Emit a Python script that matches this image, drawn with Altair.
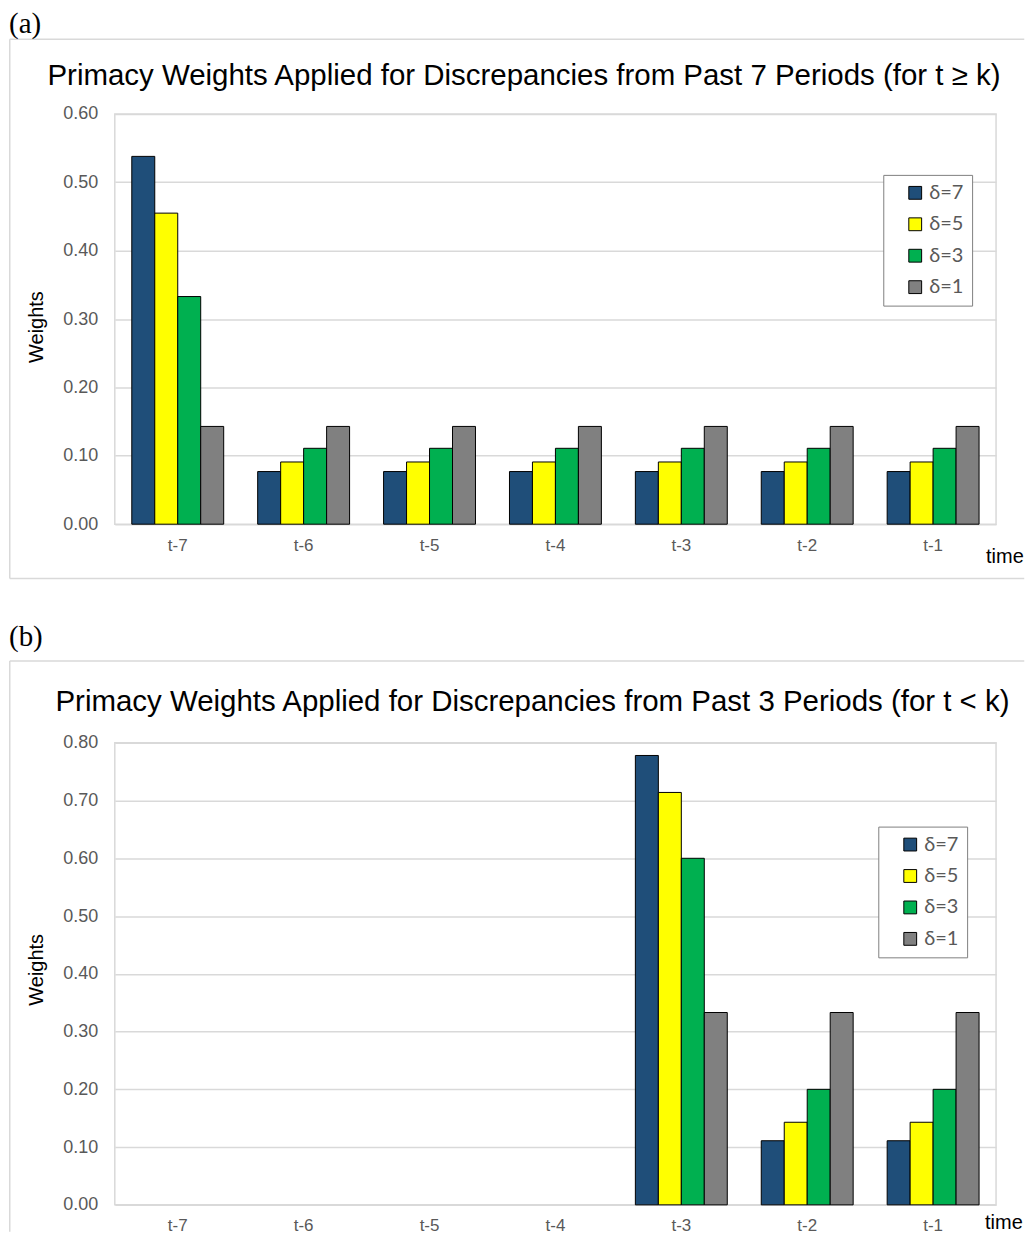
import altair as alt
import pandas as pd

# ---------------- data ----------------
periods = ["t-7", "t-6", "t-5", "t-4", "t-3", "t-2", "t-1"]
series = ["δ=7", "δ=5", "δ=3", "δ=1"]
colors = ["#1F4E79", "#FFFF00", "#00B050", "#808080"]

# panel (a): past 7 periods
a_d7 = [0.538, 0.077, 0.077, 0.077, 0.077, 0.077, 0.077]
a_d5 = [0.455, 0.091, 0.091, 0.091, 0.091, 0.091, 0.091]
a_d3 = [0.333, 0.111, 0.111, 0.111, 0.111, 0.111, 0.111]
a_d1 = [0.143, 0.143, 0.143, 0.143, 0.143, 0.143, 0.143]

# panel (b): past 3 periods (no bars for t-7 .. t-4)
b_d7 = [None, None, None, None, 0.778, 0.111, 0.111]
b_d5 = [None, None, None, None, 0.714, 0.143, 0.143]
b_d3 = [None, None, None, None, 0.600, 0.200, 0.200]
b_d1 = [None, None, None, None, 0.333, 0.333, 0.333]

a_ticks = [0.0, 0.1, 0.2, 0.3, 0.4, 0.5, 0.6]
b_ticks = [0.0, 0.1, 0.2, 0.3, 0.4, 0.5, 0.6, 0.7, 0.8]

title_a = "Primacy Weights Applied for Discrepancies from Past 7 Periods (for t ≥ k)"
title_b = "Primacy Weights Applied for Discrepancies from Past 3 Periods (for t < k)"


def to_long(lists):
    rows = []
    for s, vals in zip(series, lists):
        for p, v in zip(periods, vals):
            if v is not None:
                rows.append({"period": p, "series": s, "value": v})
    return pd.DataFrame(rows)


df_a = to_long([a_d7, a_d5, a_d3, a_d1])
df_b = to_long([b_d7, b_d5, b_d3, b_d1])
one = pd.DataFrame({"k": [0]})

SANS = "Liberation Sans"
SERIF = "Liberation Serif"
GRID = "#d9d9d9"
LBL = "#595959"
W = 883
XL, XR = -105.25, 911.25   # frame left line / right end (page is cut there)


def bars(df, ymax, ticks, leg_x, leg_y, ytitle_y):
    return alt.Chart(df).mark_bar(stroke="black", strokeWidth=1).encode(
        x=alt.X("period:N", sort=periods,
                scale=alt.Scale(domain=periods, paddingInner=0.27, paddingOuter=0.135),
                axis=alt.Axis(title=None, labelAngle=0, labelFontSize=17, labelColor=LBL,
                              labelFont=SANS, labelPadding=13, domain=False, ticks=False)),
        xOffset=alt.XOffset("series:N", sort=series,
                            scale=alt.Scale(domain=series, paddingInner=0, paddingOuter=0)),
        y=alt.Y("value:Q", scale=alt.Scale(domain=[0, ymax], nice=False, zero=True),
                axis=alt.Axis(values=ticks, format=".2f", title="Weights", titleFont=SANS,
                              titleFontSize=20, titleFontWeight="normal", titleColor="black",
                              titleX=-78, titleY=ytitle_y, titleBaseline="middle", titleAngle=270,
                              labelFontSize=18, labelColor=LBL, labelFont=SANS, labelPadding=17,
                              domain=False, ticks=False, grid=True, gridColor=GRID,
                              gridWidth=1.5)),
        color=alt.Color("series:N", sort=series,
                        scale=alt.Scale(domain=series, range=colors),
                        legend=alt.Legend(title=None, orient="none", legendX=leg_x, legendY=leg_y,
                                          symbolType="square", symbolSize=165,
                                          symbolStrokeColor="black", symbolStrokeWidth=1,
                                          labelFontSize=20, labelColor=LBL, labelFont="Lato",
                                          strokeColor="#7f7f7f", fillColor="white",
                                          padding=8, rowPadding=11.5, symbolOffset=14,
                                          labelOffset=4)),
    )


def text(s, x, y, size, font=SANS, align="left", color="black", baseline="alphabetic"):
    return alt.Chart(one).mark_text(text=s, align=align, baseline=baseline,
                                    font=font, fontSize=size, color=color).encode(
        x=alt.value(x), y=alt.value(y))


def hline(x1, x2, y):
    return alt.Chart(one).mark_rule(stroke=GRID, strokeWidth=1.5).encode(
        x=alt.value(x1), x2=alt.value(x2), y=alt.value(y))


def vline(x, y1, y2):
    return alt.Chart(one).mark_rule(stroke=GRID, strokeWidth=1.5).encode(
        x=alt.value(x), y=alt.value(y1), y2=alt.value(y2))


# ---------- panel (a) ----------
HA = 411
bounds_a = alt.Chart(one).mark_rect(fill="transparent").encode(
    x=alt.value(-106), x2=alt.value(912), y=alt.value(-104), y2=alt.value(545))

panel_a = alt.layer(
    bounds_a,
    hline(XL, XR, -75),
    hline(XL, XR, 465.5),
    vline(XL, -75, 465.5),
    bars(df_a, 0.6, a_ticks, 770, 61, 213),
    text("(a)", -106, -104, 29, font=SERIF, baseline="top"),
    text(title_a, 410, -29.5, 29.5, align="center"),
    text("time", 873, 450, 20),
    text("(b)", -106, 510, 29, font=SERIF, baseline="top"),
).properties(width=W, height=HA)

# ---------- panel (b) ----------
HB = 463
panel_b = alt.layer(
    vline(XL, -82, 490),
    hline(XL, XR, -82),
    bars(df_b, 0.8, b_ticks, 765, 84, 227),
    text(title_b, 418.5, -32, 29.5, align="center"),
    text("time", 872, 487, 20),
).properties(width=W, height=HB)

chart = alt.vconcat(panel_a, panel_b, spacing=0).resolve_scale(
    color="independent", y="independent"
).resolve_legend(color="independent").properties(
    padding=0, background="white"
).configure_view(stroke=GRID, strokeWidth=1.5)

chart.save("out.html", embed_options={"renderer": "svg", "actions": False})
